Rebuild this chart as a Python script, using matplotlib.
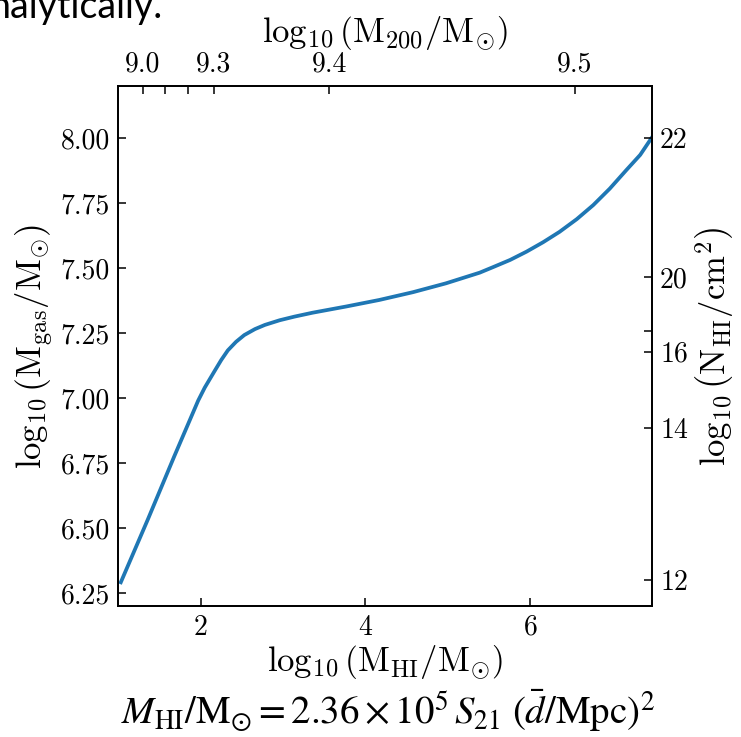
import matplotlib.pyplot as plt
import numpy as np
from matplotlib.ticker import FormatStrFormatter

# police type LaTeX (Computer Modern) pour les axes
plt.rcParams['font.family'] = 'serif'
plt.rcParams['font.serif'] = ['cmr10']
plt.rcParams['mathtext.fontset'] = 'cm'
plt.rcParams['axes.formatter.use_mathtext'] = True

# courbe
log_mhi = [1.03, 1.36, 1.68, 1.97, 2.05, 2.17, 2.25, 2.33, 2.43, 2.53, 2.66, 2.78,
           2.96, 3.14, 3.36, 3.77, 4.17, 4.58, 4.98, 5.39, 5.55, 5.76, 5.96, 6.16,
           6.36, 6.57, 6.77, 6.97, 7.17, 7.34, 7.48]
log_mgas = [6.291, 6.534, 6.776, 6.990, 7.040, 7.104, 7.146, 7.183, 7.216, 7.242, 7.265, 7.281,
            7.299, 7.313, 7.328, 7.352, 7.377, 7.407, 7.441, 7.482, 7.503, 7.531, 7.563, 7.599,
            7.639, 7.688, 7.742, 7.805, 7.876, 7.935, 8.001]

# axes secondaires
m200_tick_pos = [1.30, 1.57, 1.845, 2.157, 3.565, 6.546]
m200_tick_labels = ['9.0', '', '', '9.3', '9.4', '9.5']
nhi_tick_pos = [8.00, 7.464, 7.258, 7.178, 6.886, 6.30]
nhi_tick_labels = ['22', '20', '', '16', '14', '12']
gas_ticks = [6.25, 6.50, 6.75, 7.00, 7.25, 7.50, 7.75, 8.00]
mhi_ticks = [2, 4, 6]

xlim = (1.0, 7.48)
ylim = (6.2, 8.2)

fig = plt.figure(figsize=(7.41, 7.37), dpi=100)
ax = fig.add_axes([0.1597, 0.1778, 0.7198, 0.7055])

ax.plot(log_mhi, log_mgas, color='#1f77b4', lw=2.7)
ax.set_xlim(xlim)
ax.set_ylim(ylim)
ax.set_xticks(mhi_ticks)
ax.set_yticks(gas_ticks)
ax.yaxis.set_major_formatter(FormatStrFormatter('%.2f'))
ax.set_xlabel(r'$\log_{10}\left(\mathrm{M_{HI}/M_{\odot}}\right)$', fontsize=25, labelpad=2)
ax.set_ylabel(r'$\log_{10}\left(\mathrm{M_{gas}/M_{\odot}}\right)$', fontsize=25, labelpad=4)

ax_top = ax.twiny()
ax_top.set_xlim(xlim)
ax_top.set_xticks(m200_tick_pos)
ax_top.set_xticklabels(m200_tick_labels)
ax_top.set_xlabel(r'$\log_{10}\left(\mathrm{M_{200}/M_{\odot}}\right)$', fontsize=25, labelpad=6)

ax_right = ax.twinx()
ax_right.set_ylim(ylim)
ax_right.set_yticks(nhi_tick_pos)
ax_right.set_yticklabels(nhi_tick_labels)
ax_right.set_ylabel(r'$\log_{10}\left(\mathrm{N_{HI}/cm^{2}}\right)$', fontsize=25, labelpad=4)

for a in (ax, ax_top, ax_right):
    a.tick_params(direction='in', length=6, width=1.1, labelsize=20, pad=6)
    for s in a.spines.values():
        s.set_linewidth(1.1)

# morceaux de la diapositive autour du graphique
fig.text(-0.014, 0.976, 'nalytically.', fontsize=27, family='Lato', va='baseline')
fig.text(0.523, 0.017,
         r'$M_{\mathrm{HI}}/\mathrm{M}_{\odot} = 2.36\times10^{5}\,S_{21}\ (\bar{d}/\mathrm{Mpc})^{2}$',
         fontsize=28, math_fontfamily='stix', ha='center', va='baseline')

plt.savefig('out.png', dpi=100)
